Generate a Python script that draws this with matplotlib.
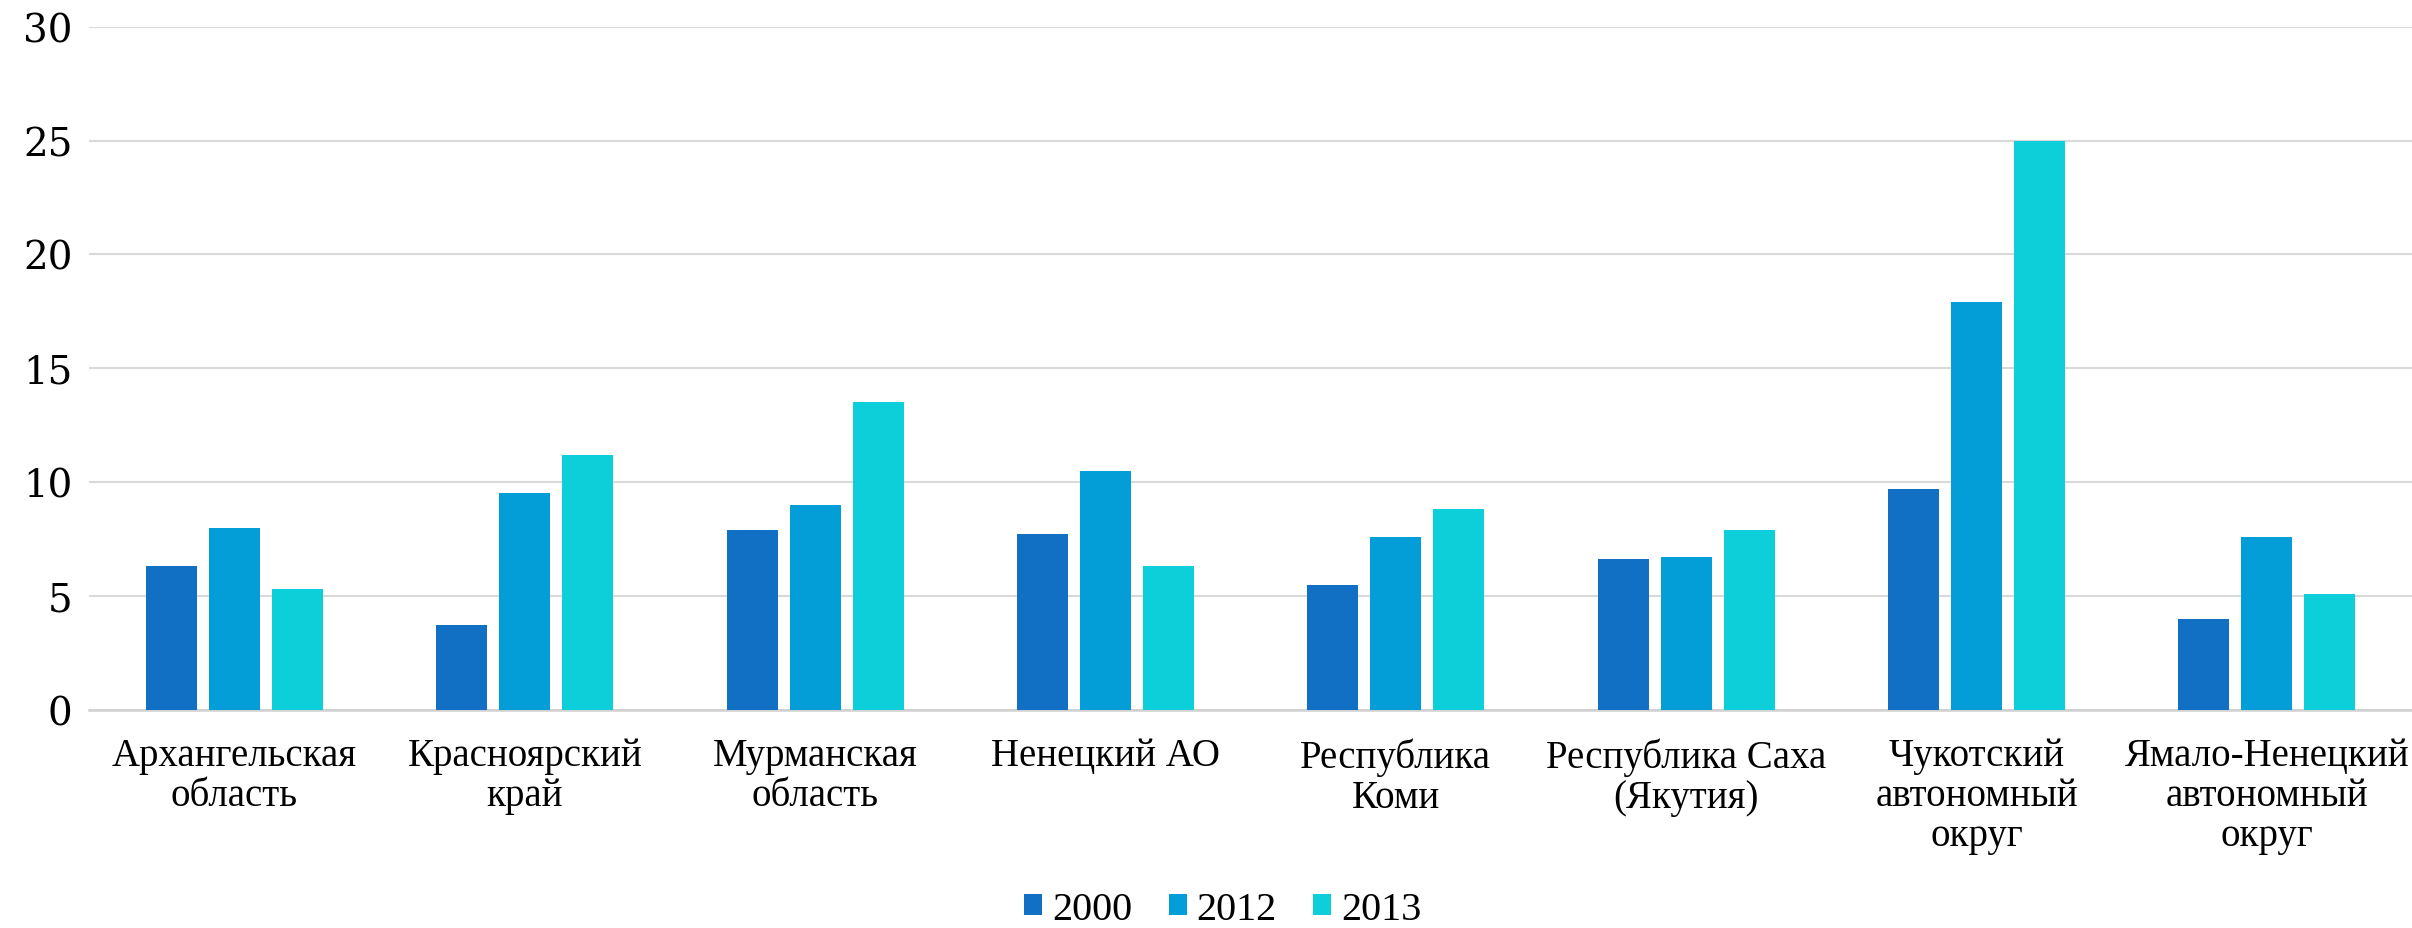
import matplotlib
matplotlib.use("Agg")
from matplotlib import pyplot as plt
import numpy as np

regions = ['Архангельская\nобласть', 'Красноярский\nкрай', 'Мурманская\nобласть',
           'Ненецкий АО', 'Республика\nКоми', 'Республика Саха\n(Якутия)',
           'Чукотский\nавтономный\nокруг', 'Ямало-Ненецкий\nавтономный\nокруг']
years = ['2000', '2012', '2013']
v2000 = [6.3, 3.7, 7.9, 7.7, 5.5, 6.6, 9.7, 4.0]
v2012 = [8.0, 9.5, 9.0, 10.5, 7.6, 6.7, 17.9, 7.6]
v2013 = [5.3, 11.2, 13.5, 6.3, 8.8, 7.9, 25.0, 5.1]
yticks = [0, 5, 10, 15, 20, 25, 30]

colors = ['#1170C4', '#039DD8', '#0DCFDA']

plt.rcParams['font.family'] = ['Liberation Serif', 'DejaVu Serif']

fig = plt.figure(figsize=(24.12, 9.29), dpi=100)
ax = fig.add_axes([0.037, 0.235, 0.963, 0.735])

x = np.arange(len(regions))
width = 0.175
step = 0.217
for i, (vals, yr) in enumerate(zip([v2000, v2012, v2013], years)):
    ax.bar(x + (i - 1) * step, vals, width, color=colors[i], label=yr, zorder=3)

ax.set_xlim(-0.5, len(regions) - 0.5)
ax.set_ylim(0, 30)
ax.set_yticks(yticks)
ax.set_yticklabels([str(t) for t in yticks], fontsize=28, family='DejaVu Serif')
ax.set_xticks(x)
ax.set_xticklabels(regions, fontsize=28, linespacing=1.1)
ax.tick_params(axis='both', length=0)
ax.tick_params(axis='x', pad=20)
ax.tick_params(axis='y', pad=12)

ax.yaxis.grid(True, color='#D9D9D9', linewidth=1.5, zorder=0)
for s in ['top', 'right', 'left']:
    ax.spines[s].set_visible(False)
ax.spines['bottom'].set_color('#D0D0D0')
ax.spines['bottom'].set_linewidth(1.8)

fig.legend(loc='center', bbox_to_anchor=(0.507, 0.02), ncol=3, frameon=False,
           fontsize=29, handlelength=0.45, handleheight=0.45, handletextpad=0.25,
           columnspacing=0.9)

fig.savefig('out.png', dpi=100)
